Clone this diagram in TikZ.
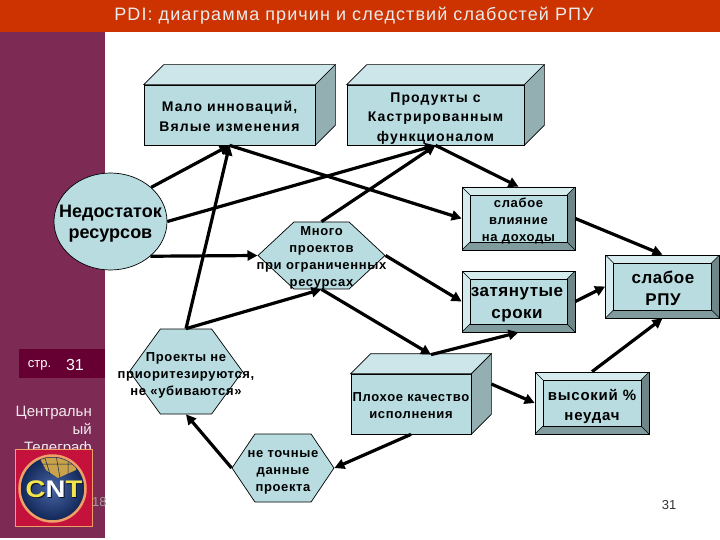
\documentclass[tikz,border=0pt]{standalone}
\usepackage{fontspec}
\setmainfont{Liberation Sans}
\newfontfamily\titlefont[LetterSpace=6]{Liberation Sans}
\newfontfamily\bigfont[LetterSpace=3]{Liberation Sans}
\newfontfamily\spacedfont[LetterSpace=5]{Liberation Sans}
\newfontfamily\widefont[LetterSpace=8]{Liberation Sans}
\usepackage{xcolor}
\usetikzlibrary{
  arrows.meta,
  calc,
  shapes.geometric,
  shapes.symbols
}
\definecolor{TitleRed}{HTML}{CC3300}
\definecolor{PanelPlum}{HTML}{7D2B55}
\definecolor{PageDark}{HTML}{660033}
\definecolor{BoxFill}{HTML}{B8DCE0}
\definecolor{BoxTop}{HTML}{CDE6E9}
\definecolor{BoxSide}{HTML}{93AFB2}
\definecolor{BevelDark}{HTML}{7F9B9E}
\definecolor{BevelRight}{HTML}{6F8688}
\definecolor{BevelLight}{HTML}{D5EBED}
\definecolor{LogoRed}{HTML}{C4123C}
\definecolor{LogoRing}{HTML}{EFA066}
\definecolor{LogoBlue}{HTML}{1B3F8F}
\definecolor{LogoGold}{HTML}{C9A24A}
\definecolor{LogoYellow}{HTML}{F4E64A}
\tikzset{
  arrowline/.style={line width=3.2pt,-{Triangle[width=10pt,length=10pt]}},
  boxthree/.style={draw=black,fill=BoxFill,line width=0.7pt,inner sep=0pt,
    append after command={\pgfextra{\let\boxname\tikzlastnode
      \draw[line width=0.7pt,fill=BoxTop] (\boxname.north west) -- ++(20,-20) -- ($(\boxname.north east)+(20,-20)$) -- (\boxname.north east) -- cycle;
      \draw[line width=0.7pt,fill=BoxSide] (\boxname.north east) -- ++(20,-20) -- ($(\boxname.south east)+(20,-20)$) -- (\boxname.south east) -- cycle;
    }}},
  bevelbox/.style={draw=black,fill=BoxFill,line width=0.7pt,inner sep=0pt,
    minimum width=113pt,
    path picture={
      \coordinate (nw) at (path picture bounding box.north west);
      \coordinate (ne) at (path picture bounding box.north east);
      \coordinate (sw) at (path picture bounding box.south west);
      \coordinate (se) at (path picture bounding box.south east);
      \coordinate (inw) at ($(nw)+(8,8)$);
      \coordinate (ine) at ($(ne)+(-8,8)$);
      \coordinate (isw) at ($(sw)+(8,-8)$);
      \coordinate (ise) at ($(se)+(-8,-8)$);
      \fill[BevelLight] (nw) -- (ne) -- (ine) -- (inw) -- cycle;
      \fill[BevelLight] (nw) -- (sw) -- (isw) -- (inw) -- cycle;
      \fill[BevelDark] (sw) -- (se) -- (ise) -- (isw) -- cycle;
      \fill[BevelRight] (ne) -- (se) -- (ise) -- (ine) -- cycle;
      \draw[line width=0.7pt] (inw) rectangle (ise);
      \draw[line width=0.4pt] (nw) -- (inw) (ne) -- (ine) (sw) -- (isw) (se) -- (ise);
    }},
  hexbox/.style={draw=black,fill=BoxFill,line width=0.7pt,inner sep=0pt,
    shape=signal,signal to=east and west,signal from=nowhere},
  smalltext/.style={align=center,inner sep=0pt,font=\spacedfont\bfseries\fontsize{13}{17}\selectfont},
  widetext/.style={align=center,inner sep=0pt,font=\widefont\bfseries\fontsize{14}{19.5}\selectfont},
  bigtext/.style={align=center,inner sep=0pt,font=\bigfont\bfseries\fontsize{17}{22}\selectfont}
}
\begin{document}
\begin{tikzpicture}[x=1pt,y=-1pt]
  \useasboundingbox (0,0) rectangle (720,540);
  \fill[white] (0,0) rectangle (720,540);
  \fill[TitleRed] (0,0) rectangle (720,32);
  \fill[PanelPlum] (0,32) rectangle (105,538);
  \fill[PageDark] (19,349) rectangle (105,378);
  \node[text=white!92!black,font=\titlefont\fontsize{18}{20}\selectfont] (title) at (354,16) {PDI: диаграмма причин и следствий слабостей РПУ};
  \node[text=white,font=\fontsize{13}{15}\selectfont] (pagelabel) at (39.5,365) {стр.};
  \node[text=white,font=\fontsize{16}{18}\selectfont] (pagenum) at (75,365) {31};
  \node[text=white!90!PanelPlum,align=right,anchor=north east,inner sep=0pt,font=\fontsize{15}{18}\selectfont] (company) at (92,406) {Центральн\\ый\\Телеграф};
  \node[text=black!38,anchor=west,inner sep=0pt,font=\fontsize{13}{15}\selectfont] (pagedate) at (92,502) {18};
  \node[text=black!80,font=\fontsize{13}{15}\selectfont] (pagefoot) at (669,505) {31};

  \node[draw=LogoRing,fill=LogoRed,line width=1pt,minimum size=77pt,inner sep=0pt] (logo) at (54,487.5) {};
  \node[circle,draw=LogoRing,line width=2.5pt,inner color=LogoBlue!80!white,outer color=LogoBlue!60!black,minimum size=66pt,inner sep=0pt] (globe) at (52.5,488.5) {};
  \begin{scope}
    \clip (globe) circle (31pt);
    \fill[LogoGold] (38,455) -- (80,455) -- (76,470) -- (58,478) -- (46,470) -- cycle;
    \draw[LogoBlue!60!black,line width=0.5pt] (44,455) -- (50,474) (56,455) -- (60,478) (68,455) -- (68,474) (40,464) -- (78,464);
  \end{scope}
  \node[text=black!75!LogoBlue,font=\bfseries\fontsize{24}{24}\selectfont,inner sep=0pt,xscale=1.15] (logoshade) at (55,490.5) {CNT};
  \node[text=LogoYellow,font=\bfseries\fontsize{24}{24}\selectfont,inner sep=0pt,xscale=1.15] (logotext) at (54,489.5) {C\textcolor{white}{N}T};

  \node[boxthree,minimum width=171pt,minimum height=60pt] (fewideas) at (229.5,115) {};
  \node[widetext] (fewideastext) at (229.5,116.5) {Мало инноваций,\\Вялые изменения};
  \node[boxthree,minimum width=177pt,minimum height=60pt] (products) at (435.5,115) {};
  \node[widetext] (productstext) at (435.5,118.5) {Продукты с\\Кастрированным\\функционалом};
  \node[boxthree,minimum width=120pt,minimum height=60pt] (quality) at (411,404) {};
  \node[smalltext] (qualitytext) at (411,405.5) {Плохое качество\\исполнения};
  \coordinate (qualitytop) at ($(quality.north)+(20,-19)$);
  \coordinate (qualityside) at ($(quality.east)+(20,-20)$);

  \node[ellipse,draw=black,fill=BoxFill,line width=0.7pt,minimum width=113pt,minimum height=97pt,inner sep=0pt] (lack) at (110.5,221.5) {};
  \node[align=center,inner sep=0pt,font=\bfseries\fontsize{18}{21}\selectfont] (lacktext) at (110.5,224) {Недостаток\\ресурсов};

  \node[hexbox,minimum width=127pt,minimum height=67pt,signal pointer angle=86] (many) at (321.5,255.5) {};
  \node[smalltext] (manytext) at (321.5,258) {Много\\проектов\\при ограниченных\\ресурсах};
  \node[hexbox,minimum width=113pt,minimum height=85pt,signal pointer angle=108] (noprio) at (186,371.5) {};
  \node[smalltext] (nopriotext) at (186,375) {Проекты не\\приоритезируются,\\не «убиваются»};
  \node[hexbox,minimum width=102pt,minimum height=68pt,signal pointer angle=112] (baddata) at (283,468) {};
  \node[smalltext] (baddatatext) at (283,472) {не точные\\данные\\проекта};

  \node[bevelbox,minimum height=63pt] (income) at (518.5,218.5) {};
  \node[smalltext] (incometext) at (518.5,221) {слабое\\влияние\\на доходы};
  \node[bevelbox,minimum height=61pt] (late) at (518.5,301.5) {};
  \node[bigtext] (latetext) at (517,305) {затянутые\\сроки};
  \node[bevelbox,minimum width=114pt,minimum height=63pt] (weakrpu) at (662.5,286.5) {};
  \node[bigtext] (weakrputext) at (663,288) {слабое\\РПУ};
  \node[bevelbox,minimum width=114pt,minimum height=62pt] (failures) at (592,403) {};
  \node[align=center,inner sep=0pt,font=\spacedfont\bfseries\fontsize{15}{20}\selectfont] (failurestext) at (592,406) {высокий \%\\неудач};

  \draw[arrowline] (lack.40) -- (fewideas.south);
  \draw[arrowline] (lack.east) -- (products.south);
  \draw[arrowline] (lack.-41) -- (many.west);
  \draw[arrowline] (noprio.north) -- (fewideas.south);
  \draw[arrowline] (noprio.north) -- (many.south);
  \draw[arrowline] (many.north) -- (products.south);
  \draw[arrowline] (fewideas.south) -- (income.west);
  \draw[arrowline] (products.south) -- (income.north);
  \draw[arrowline] (income.east) -- (weakrpu.north);
  \draw[arrowline] (many.east) -- (late.west);
  \draw[arrowline] (many.south) -- (qualitytop);
  \draw[arrowline] (qualitytop) -- (late.south);
  \draw[arrowline] (late.east) -- (weakrpu.west);
  \draw[arrowline] (qualityside) -- (failures.west);
  \draw[arrowline] (failures.north) -- (weakrpu.south);
  \draw[arrowline] (quality.south) -- (baddata.east);
  \draw[arrowline] (baddata.west) -- (noprio.south);
\end{tikzpicture}
\end{document}
